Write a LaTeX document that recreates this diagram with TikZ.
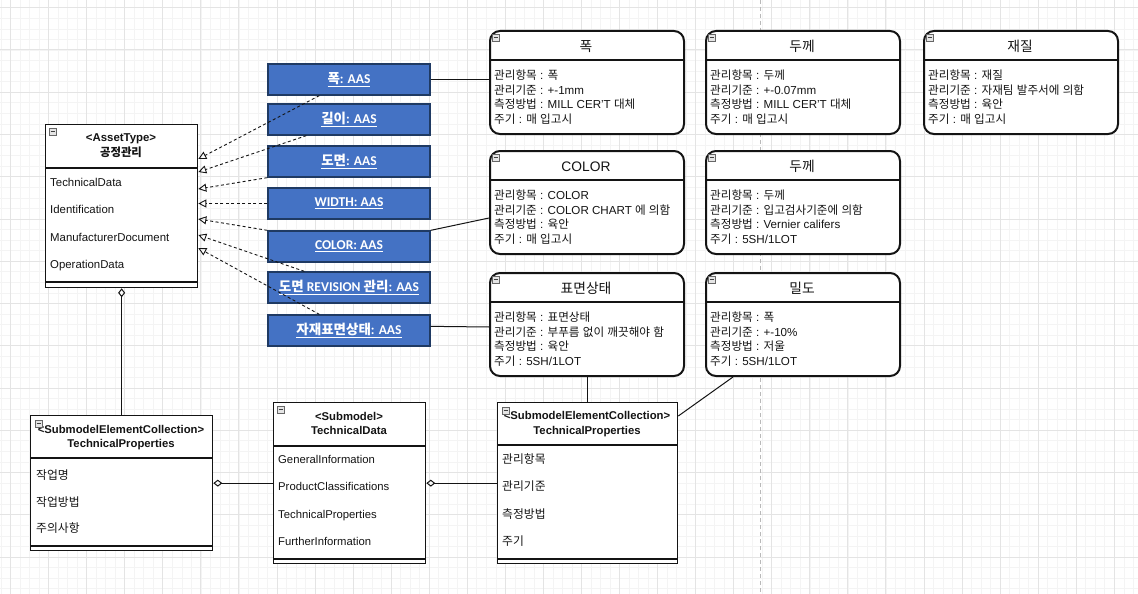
\documentclass[tikz,border=0pt]{standalone}
\usepackage{fontspec}
\setmainfont{Liberation Sans}
\newfontfamily\krfam{Noto Sans CJK KR}
\newfontfamily\carl{Carlito}
\newXeTeXintercharclass\HangulClass
\XeTeXinterchartokenstate=1
\count255="AC00
\loop \XeTeXcharclass\count255=\HangulClass \advance\count255 by 1 \ifnum\count255<"D7A4 \repeat
\def\latinback{\rmfamily}
\XeTeXinterchartoks 0 \HangulClass = {\krfam}
\XeTeXinterchartoks 4095 \HangulClass = {\krfam}
\XeTeXinterchartoks \HangulClass 0 = {\latinback}
\XeTeXinterchartoks \HangulClass 4095 = {\latinback}
\usetikzlibrary{arrows.meta,calc}
\definecolor{ink}{HTML}{141414}
\definecolor{blueF}{HTML}{4472C4}
\definecolor{blueD}{HTML}{1F3A63}
\definecolor{gmaj}{HTML}{E4E4E4}
\definecolor{gmin}{HTML}{F4F4F4}
\tikzset{
  umlbox/.style={draw=ink, line width=1.3pt, fill=white, rectangle, anchor=north west, inner sep=0pt},
  umlline/.style={draw=ink, line width=1.3pt},
  rbox/.style={draw=ink, line width=2pt, fill=white, rounded corners=10pt, anchor=north west, inner sep=0pt, minimum width=194pt, minimum height=103pt},
  bluebox/.style={draw=blueD, line width=1.3pt, fill=blueF, minimum width=162pt, minimum height=31pt, inner sep=0pt, text=white, font=\fontsize{13.5}{15}\selectfont\bfseries\carl\def\latinback{\carl}},
  hdr/.style={anchor=base, inner sep=0pt, font=\fontsize{11.4}{13}\selectfont\bfseries},
  attr/.style={anchor=base west, inner sep=0pt, font=\fontsize{11.3}{13}\selectfont},
  rattr/.style={anchor=base west, inner sep=0pt, font=\fontsize{11.6}{13}\selectfont},
  rtitle/.style={anchor=base, inner sep=0pt, font=\fontsize{13.8}{15}\selectfont},
  dep/.style={draw=ink, line width=0.9pt, dash pattern=on 3pt off 2.5pt, -{Triangle[open, length=8pt, width=8pt]}},
  conn/.style={draw=ink, line width=1pt},
  agg/.style={draw=ink, line width=1pt, {Diamond[open, length=9pt, width=7pt]}-}
}
\newcommand\mico[2]{%
  \draw[draw=gray!80!black, line width=0.8pt, fill=gray!20] (#1,#2) rectangle ++(7,7);
  \draw[draw=gray!50!black, line width=1pt] (#1+1.5,#2+3.5) -- ++(4,0);}
\newcommand\rinfo[8]{%
  \node[rbox] (#1) at (#2,#3) {};
  \draw[ink, line width=2pt] (#2,#3+30) -- (#2+194,#3+30);
  \mico{#2+3}{#3+4}
  \node[rtitle] at (#2+97,#3+21.5) {#4};
  \node[rattr] at (#2+5,#3+49.5) {#5};
  \node[rattr] at (#2+5,#3+64) {#6};
  \node[rattr] at (#2+5,#3+78.5) {#7};
  \node[rattr] at (#2+5,#3+93) {#8};}
\begin{document}
\begin{tikzpicture}[x=1pt,y=-1pt,text=ink]
\useasboundingbox (0,0) rectangle (1138,594);
\fill[white] (0,0) rectangle (1138,594);
% grid
\foreach \i in {-1,...,119} \draw[gmin, line width=0.7pt] ({10.6+9.515*\i},0) -- ++(0,594);
\foreach \j in {-1,...,56} \draw[gmin, line width=0.7pt] (0,{7.75+10.5625*\j}) -- ++(1138,0);
\foreach \i in {0,...,29} \draw[gmaj, line width=1pt] ({10.6+38.06*\i},0) -- ++(0,594);
\foreach \j in {0,...,14} \draw[gmaj, line width=1pt] (0,{7.75+42.25*\j}) -- ++(1138,0);
\draw[gray!55, line width=0.7pt, dash pattern=on 4pt off 3pt] (760,0) -- (760,594);

% AssetType class
\node[umlbox, minimum width=152pt, minimum height=163pt] (A) at (45,124) {};
\draw[umlline] (45,168) -- (197,168);
\draw[umlline] (45,282) -- (197,282);
\mico{49}{128}
\node[hdr] at (121,141) {<AssetType>};
\node[hdr] at (121,156.5) {공정관리};
\node[attr, font=\fontsize{11.4}{13}\selectfont] at (50,186) {TechnicalData};
\node[attr, font=\fontsize{11.4}{13}\selectfont] at (50,213.5) {Identification};
\node[attr, font=\fontsize{11.4}{13}\selectfont] at (50,241) {ManufacturerDocument};
\node[attr, font=\fontsize{11.4}{13}\selectfont] at (50,268.5) {OperationData};

% blue AAS boxes
\node[bluebox] (b1) at (349,79.5) {\underline{폭: AAS}};
\node[bluebox] (b2) at (349,119.5) {\underline{길이: AAS}};
\node[bluebox] (b3) at (349,161.5) {\underline{도면: AAS}};
\node[bluebox] (b4) at (349,203.5) {\underline{WIDTH: AAS}};
\node[bluebox] (b5) at (349,246.5) {\underline{COLOR: AAS}};
\node[bluebox] (b6) at (349,287.5) {\underline{도면 REVISION 관리: AAS}};
\node[bluebox] (b7) at (349,330.5) {\underline{자재표면상태: AAS}};

% rounded info boxes
\rinfo{R1}{489}{30}{폭}{관리항목 : 폭}{관리기준 : +-1mm}{측정방법 : MILL CER'T 대체}{주기 : 매 입고시}
\rinfo{R2}{705}{30}{두께}{관리항목 : 두께}{관리기준 : +-0.07mm}{측정방법 : MILL CER'T 대체}{주기 : 매 입고시}
\rinfo{R3}{923}{30}{재질}{관리항목 : 재질}{관리기준 : 자재팀 발주서에 의함}{측정방법 : 육안}{주기 : 매 입고시}
\rinfo{R4}{489}{150}{COLOR}{관리항목 : COLOR}{관리기준 : COLOR CHART 에 의함}{측정방법 : 육안}{주기 : 매 입고시}
\rinfo{R5}{705}{150}{두께}{관리항목 : 두께}{관리기준 : 입고검사기준에 의함}{측정방법 : Vernier califers}{주기 : 5SH/1LOT}
\rinfo{R6}{489}{272}{표면상태}{관리항목 : 표면상태}{관리기준 : 부푸름 없이 깨끗해야 함}{측정방법 : 육안}{주기 : 5SH/1LOT}
\rinfo{R7}{705}{272}{밀도}{관리항목 : 폭}{관리기준 : +-10\%}{측정방법 : 저울}{주기 : 5SH/1LOT}

% bottom left SMC
\node[umlbox, minimum width=182pt, minimum height=135pt] (C1) at (30,415) {};
\draw[umlline] (30,458) -- (212,458);
\draw[umlline] (30,546) -- (212,546);
\node[hdr, font=\fontsize{11.3}{13}\selectfont\bfseries] at (121,433) {<SubmodelElementCollection>};
\node[hdr, font=\fontsize{11.3}{13}\selectfont\bfseries] at (121,447.5) {TechnicalProperties};
\mico{35}{420}
\node[attr, font=\fontsize{11.8}{13}\selectfont] at (36,479.5) {작업명};
\node[attr, font=\fontsize{11.8}{13}\selectfont] at (36,506.5) {작업방법};
\node[attr, font=\fontsize{11.8}{13}\selectfont] at (36,532.5) {주의사항};

% bottom middle Submodel
\node[umlbox, minimum width=152pt, minimum height=161pt] (C2) at (273,402) {};
\draw[umlline] (273,446) -- (425,446);
\draw[umlline] (273,559) -- (425,559);
\mico{277}{406}
\node[hdr, font=\fontsize{11.3}{13}\selectfont\bfseries] at (349,420) {<Submodel>};
\node[hdr, font=\fontsize{11.3}{13}\selectfont\bfseries] at (349,434.5) {TechnicalData};
\node[attr] at (278,463.5) {GeneralInformation};
\node[attr] at (278,490.5) {ProductClassifications};
\node[attr] at (278,518) {TechnicalProperties};
\node[attr] at (278,545.5) {FurtherInformation};

% bottom right SMC
\node[umlbox, minimum width=180pt, minimum height=161pt] (C3) at (497,402) {};
\draw[umlline] (497,445) -- (677,445);
\draw[umlline] (497,559) -- (677,559);
\node[hdr, font=\fontsize{11.3}{13}\selectfont\bfseries] at (587,419.5) {<SubmodelElementCollection>};
\node[hdr, font=\fontsize{11.3}{13}\selectfont\bfseries] at (587,434.5) {TechnicalProperties};
\mico{502}{407}
\node[attr, font=\fontsize{11.8}{13}\selectfont] at (502,463.5) {관리항목};
\node[attr, font=\fontsize{11.8}{13}\selectfont] at (502,490.5) {관리기준};
\node[attr, font=\fontsize{11.8}{13}\selectfont] at (502,518.5) {측정방법};
\node[attr, font=\fontsize{11.8}{13}\selectfont] at (502,545.5) {주기};

% dependency arrows
\draw[dep] ([xshift=52pt]b1.south west) -- ([yshift=-35pt]A.north east);
\draw[dep] ([xshift=39pt]b2.south west) -- ([yshift=-48pt]A.north east);
\draw[dep] (b3.south west) -- ([yshift=-65pt]A.north east);
\draw[dep] (b4.west) -- (b4.west -| A.east);
\draw[dep] (b5.north west) -- ([yshift=-95pt]A.north east);
\draw[dep] ([xshift=37pt]b6.north west) -- ([yshift=-111pt]A.north east);
\draw[dep] ([xshift=52pt]b7.north west) -- ([yshift=-124pt]A.north east);

% solid links
\draw[conn] (b1.east) -- (b1.east -| R1.west);
\draw[conn] (b5.north east) -- ([yshift=-68pt]R4.north west);
\draw[conn] ([yshift=-12pt]b7.north east) -- ([yshift=-55pt]R6.north west);

% aggregations
\draw[agg] (A.south) -- (C1.north);
\draw[agg] (C1.east) -- (C1.east -| C2.west);
\draw[agg] (C2.east) -- (C2.east -| C3.west);
\draw[conn] (R6.south) -- (R6.south |- C3.north);
\draw[conn] ([yshift=-14pt]C3.north east) -- ([xshift=28pt]R7.south west);
\end{tikzpicture}
\end{document}
